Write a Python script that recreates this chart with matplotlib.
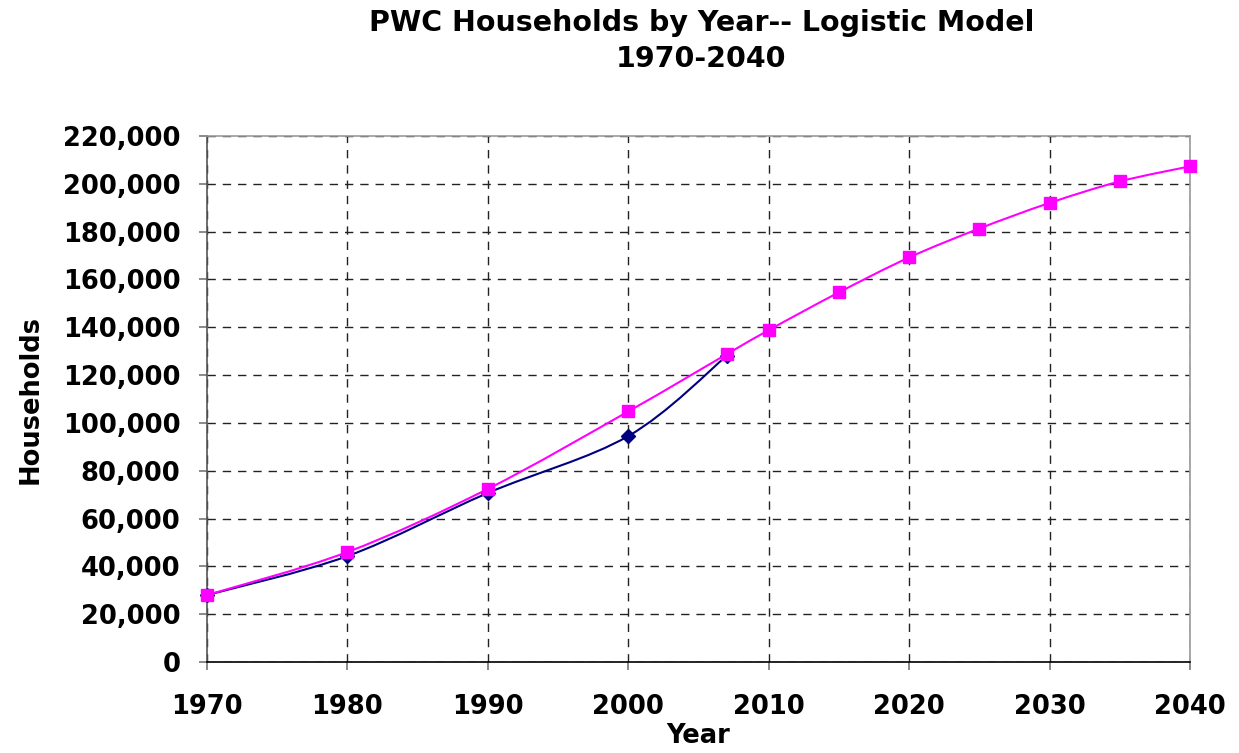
import matplotlib
matplotlib.use("Agg")
import matplotlib.pyplot as plt
from matplotlib.path import Path
from matplotlib.patches import PathPatch
from matplotlib.ticker import FuncFormatter
import numpy as np

actual_years = [1970, 1980, 1990, 2000, 2007]
actual_households = [28000, 44300, 70700, 94500, 128000]

model_years = [1970, 1980, 1990, 2000, 2007, 2010, 2015, 2020, 2025, 2030, 2035, 2040]
model_households = [28000, 46000, 72400, 104800, 128700, 138800, 154600, 169200, 181300, 192000, 201000, 207300]

title = "PWC Households by Year-- Logistic Model\n1970-2040"
x_ticks = [1970, 1980, 1990, 2000, 2010, 2020, 2030, 2040]
y_ticks = list(range(0, 220001, 20000))

plt.rcParams['font.family'] = ['DejaVu Sans']
plt.rcParams['font.weight'] = 'bold'

fig = plt.figure(figsize=(12.39, 7.53), dpi=100)
ax = fig.add_axes([207/1239, 1 - 662/753, (1190-207)/1239, (662-136)/753])


def smooth_path(xs, ys):
    xs = np.asarray(xs, float)
    ys = np.asarray(ys, float)
    n = len(xs)
    verts = [(xs[0], ys[0])]
    codes = [Path.MOVETO]
    for i in range(n - 1):
        p0 = (xs[max(i - 1, 0)], ys[max(i - 1, 0)])
        p1 = (xs[i], ys[i])
        p2 = (xs[i + 1], ys[i + 1])
        p3 = (xs[min(i + 2, n - 1)], ys[min(i + 2, n - 1)])
        c1 = (p1[0] + (p2[0] - p0[0]) / 6, p1[1] + (p2[1] - p0[1]) / 6)
        c2 = (p2[0] - (p3[0] - p1[0]) / 6, p2[1] - (p3[1] - p1[1]) / 6)
        verts += [c1, c2, p2]
        codes += [Path.CURVE4] * 3
    return Path(verts, codes)


ax.add_patch(PathPatch(smooth_path(actual_years, actual_households), fill=False,
                       edgecolor='#000080', lw=1.5, zorder=3))
ax.plot(actual_years, actual_households, ls='none', marker='D', ms=7,
        color='#000080', zorder=4, clip_on=False)

ax.add_patch(PathPatch(smooth_path(model_years, model_households), fill=False,
                       edgecolor='#FF00FF', lw=1.5, zorder=5))
ax.plot(model_years, model_households, ls='none', marker='s', ms=8,
        color='#FF00FF', zorder=6, clip_on=False)

ax.set_xlim(1970, 2040)
ax.set_ylim(0, 220000)
ax.set_xticks(x_ticks)
ax.set_yticks(y_ticks)
ax.yaxis.set_major_formatter(FuncFormatter(lambda v, p: f"{int(v):,}"))
ax.tick_params(axis='both', labelsize=18.5, length=6, width=1.2,
               color='#777777', direction='out')
ax.tick_params(axis='y', pad=13)
ax.tick_params(axis='x', pad=17)
for lab in ax.get_xticklabels() + ax.get_yticklabels():
    lab.set_fontweight('bold')

ax.grid(True, color='#222222', ls=(0, (6, 5)), lw=1.0)
ax.set_axisbelow(True)

ax.spines['left'].set_color('#555555')
ax.spines['bottom'].set_color('#000000')
ax.spines['top'].set_color('#999999')
ax.spines['right'].set_color('#999999')
for s in ax.spines.values():
    s.set_linewidth(1.2)

ax.set_xlabel("Year", fontsize=18.5, fontweight='bold', labelpad=2)
ax.set_ylabel("Households", fontsize=18.5, fontweight='bold', labelpad=14)

fig.text(0.566, 0.988, title, ha='center', va='top', fontsize=20.5,
         fontweight='bold', linespacing=1.35)

fig.savefig("out.png", dpi=100)
